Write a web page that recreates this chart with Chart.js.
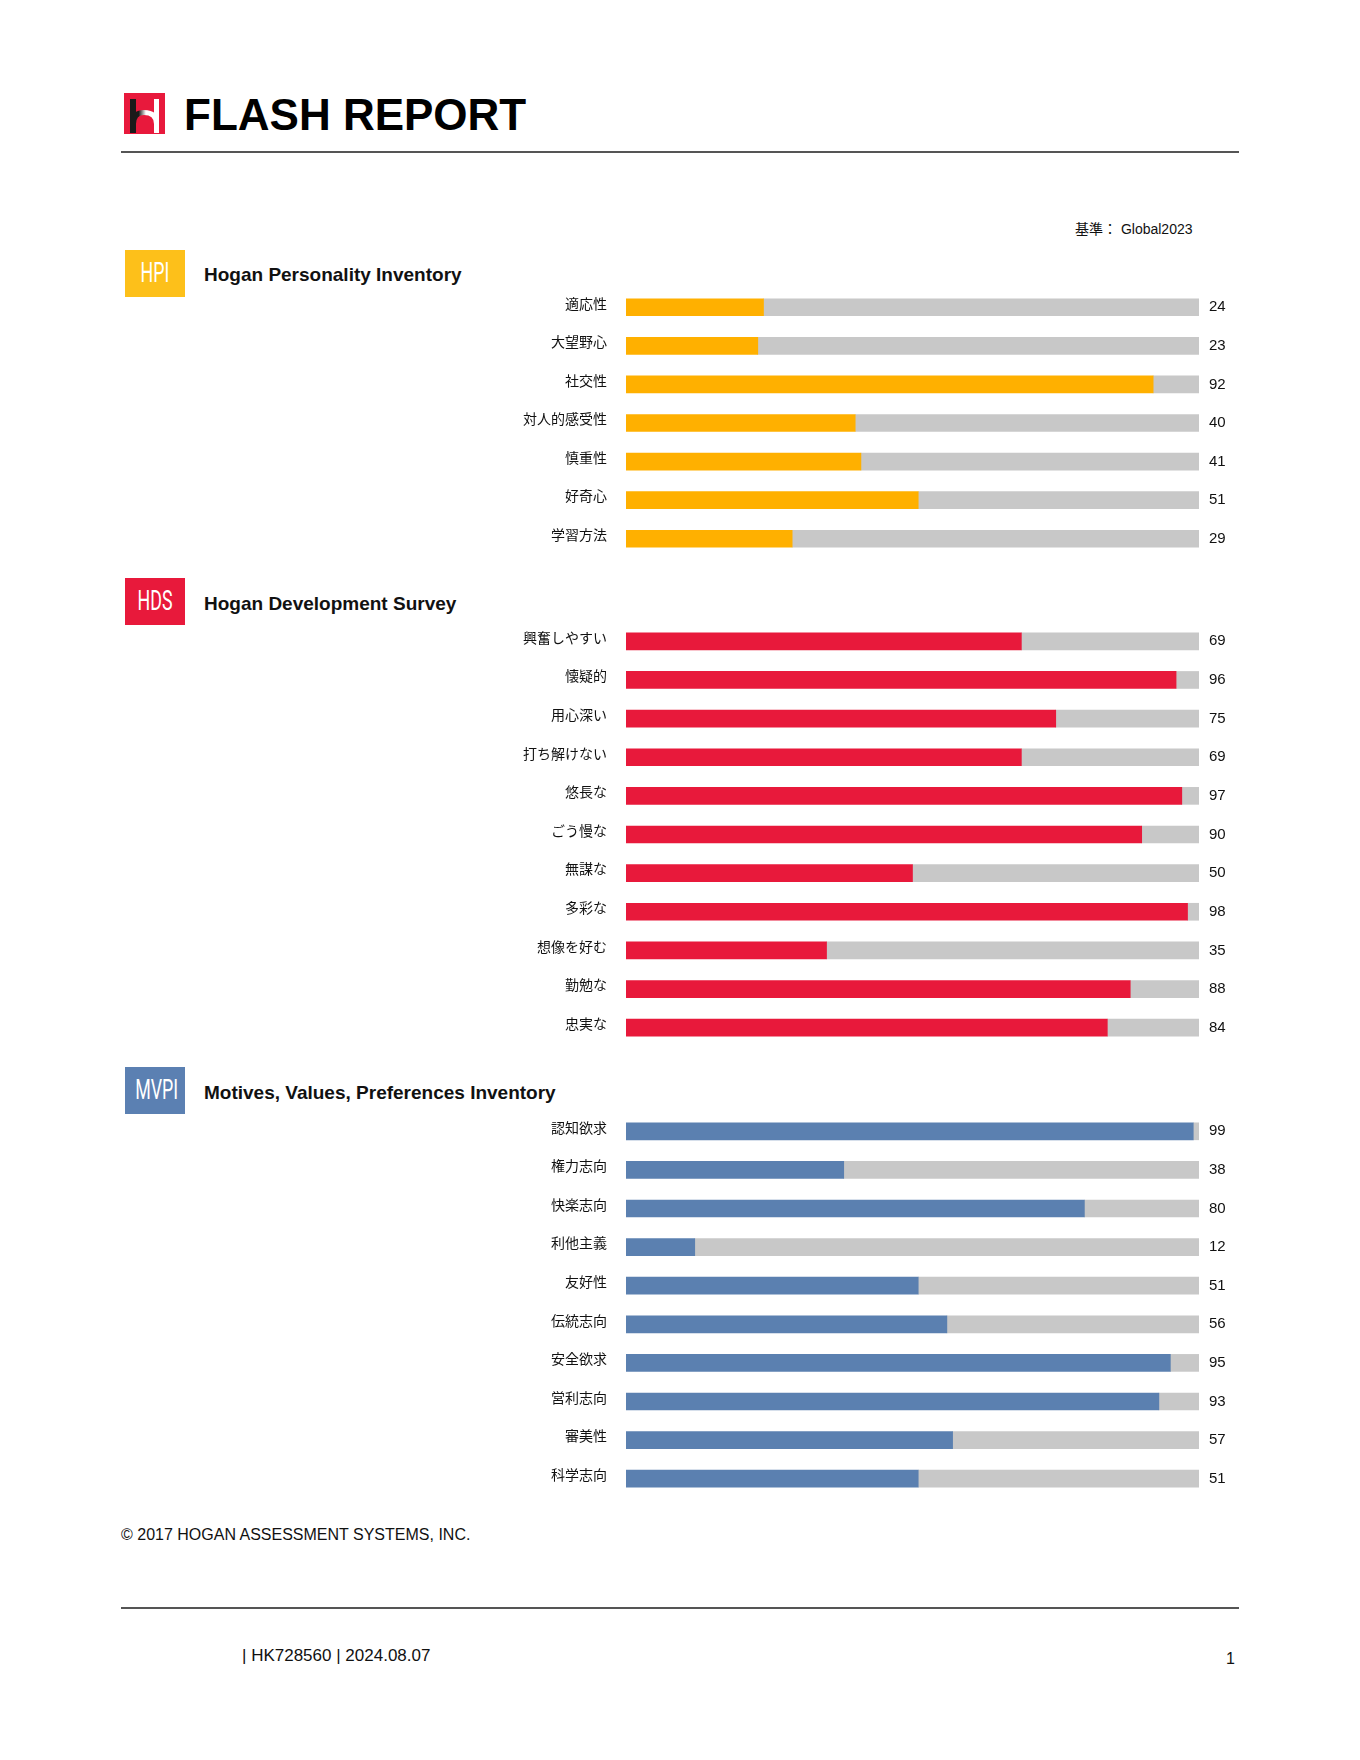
<!DOCTYPE html>
<html>
<head>
<meta charset="utf-8">
<script src="https://cdn.jsdelivr.net/npm/chart.js@4.4.0/dist/chart.umd.min.js"></script>
<style>
  body { margin: 0; background: #fff; font-family: "Liberation Sans", Arial, sans-serif; color: #111; }
  #page { position: relative; width: 1360px; height: 1760px; overflow: hidden; }
  .abs { position: absolute; }
  .rule { position: absolute; left: 121px; width: 1118px; height: 2px; background: #555; }
  .badge { position: absolute; left: 125px; width: 60px; height: 47px; color: #fff; }
  .badge span { position: absolute; left: 0; right: 0; top: 6px; text-align: center; font-family: Roboto, sans-serif;
    font-size: 27px; line-height: 34px; transform: scaleX(0.66); }
  .sec-title { position: absolute; left: 204px; font-weight: bold; font-size: 19px; line-height: 22px; color: #111; }
  canvas { position: absolute; left: 400px; }
</style>
</head>
<body>
<div id="page">
  <svg class="abs" style="left:124px;top:93px" width="41" height="41" viewBox="0 0 41 41">
    <rect width="41" height="41" fill="#e8193c"/>
    <defs>
      <linearGradient id="arc" x1="0" x2="1" y1="0" y2="0">
        <stop offset="0" stop-color="#1a1a1a"/>
        <stop offset="0.3" stop-color="#1a1a1a"/>
        <stop offset="0.55" stop-color="#fff"/>
      </linearGradient>
    </defs>
    <rect x="6" y="6" width="6" height="34" fill="#1a1a1a"/>
    <path d="M6 31 Q6 17 20 17 Q35 17 35 31 L35 40 L30 40 L30 31 Q30 22 20 22 Q12 22 12 31 Z" fill="url(#arc)"/>
    <rect x="30" y="6" width="5" height="34" fill="#fff"/>
  </svg>
  <div class="abs" style="left:184px;top:90px;font-size:44px;font-weight:bold;line-height:50px;color:#000">FLASH REPORT</div>
  <div class="rule" style="top:151px"></div>

  <div class="abs" style="left:1075px;top:219px;font-size:14px;line-height:18px;color:#111"><span style="font-family:'Noto Sans CJK JP'">基準：</span> Global2023</div>

  <div class="badge" style="top:250px;background:#fdc01a"><span>HPI</span></div>
  <div class="sec-title" style="top:264px">Hogan Personality Inventory</div>
  <canvas id="hpiChart" width="860" height="270" style="top:288px"></canvas>

  <div class="badge" style="top:578px;background:#e8193b"><span>HDS</span></div>
  <div class="sec-title" style="top:593px">Hogan Development Survey</div>
  <canvas id="hdsChart" width="860" height="425" style="top:622px"></canvas>

  <div class="badge" style="top:1067px;background:#5b80b2"><span>MVPI</span></div>
  <div class="sec-title" style="top:1082px">Motives, Values, Preferences Inventory</div>
  <canvas id="mvpiChart" width="860" height="386" style="top:1112px"></canvas>

  <div class="abs" style="left:121px;top:1526px;font-size:16px;line-height:18px;color:#111">© 2017 HOGAN ASSESSMENT SYSTEMS, INC.</div>
  <div class="rule" style="top:1607px"></div>
  <div class="abs" style="left:242px;top:1646px;font-size:17px;line-height:20px;color:#111">| HK728560 | 2024.08.07</div>
  <div class="abs" style="left:1226px;top:1649px;font-size:16px;line-height:20px;color:#111">1</div>
</div>

<script>
const hpiLabels = ["適応性", "大望野心", "社交性", "対人的感受性", "慎重性", "好奇心", "学習方法"];
const hpiValues = [24, 23, 92, 40, 41, 51, 29];

const hdsLabels = ["興奮しやすい", "懐疑的", "用心深い", "打ち解けない", "悠長な", "ごう慢な", "無謀な", "多彩な", "想像を好む", "勤勉な", "忠実な"];
const hdsValues = [69, 96, 75, 69, 97, 90, 50, 98, 35, 88, 84];

const mvpiLabels = ["認知欲求", "権力志向", "快楽志向", "利他主義", "友好性", "伝統志向", "安全欲求", "営利志向", "審美性", "科学志向"];
const mvpiValues = [99, 38, 80, 12, 51, 56, 95, 93, 57, 51];

const scaleMax = 100;

// fixed axis widths, no extra top/bottom padding so rows keep the same pitch
function fitAxis(width) {
  return s => {
    s.width = width;
    s.paddingTop = 0;
    s.paddingBottom = 0;
  };
}

function makeChart(id, labels, values, color) {
  const rest = values.map(v => scaleMax - v);
  new Chart(document.getElementById(id), {
    type: 'bar',
    data: {
      labels: labels,
      datasets: [
        { data: values, backgroundColor: color, barThickness: 17 },
        { data: rest, backgroundColor: '#c8c8c8', barThickness: 17 }
      ]
    },
    options: {
      indexAxis: 'y',
      responsive: false,
      animation: false,
      layout: { padding: 0 },
      plugins: { legend: { display: false }, tooltip: { enabled: false } },
      scales: {
        x: { display: false, stacked: true, min: 0, max: scaleMax },
        y: {
          stacked: true,
          grid: { display: false, drawTicks: false },
          border: { display: false },
          ticks: {
            autoSkip: false, padding: 19, labelOffset: -4, color: '#111',
            font: { family: "'Noto Sans CJK JP', sans-serif", size: 14 }
          },
          afterFit: fitAxis(226)
        },
        y2: {
          type: 'category',
          position: 'right',
          offset: true,
          labels: values.map(String),
          grid: { display: false, drawTicks: false },
          border: { display: false },
          ticks: {
            autoSkip: false, padding: 10, labelOffset: 0, color: '#111',
            font: { family: "'Liberation Sans', Arial, sans-serif", size: 15 }
          },
          afterFit: fitAxis(61)
        }
      }
    }
  });
}

makeChart('hpiChart', hpiLabels, hpiValues, '#ffb000');
makeChart('hdsChart', hdsLabels, hdsValues, '#e8193b');
makeChart('mvpiChart', mvpiLabels, mvpiValues, '#5b80b0');
</script>
</body>
</html>
